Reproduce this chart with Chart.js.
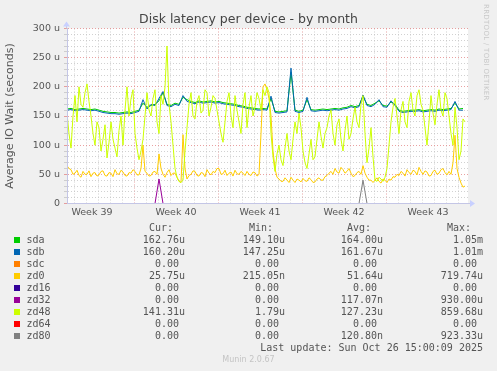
<!DOCTYPE html>
<html>
<head>
<meta charset="utf-8">
<script src="https://cdn.jsdelivr.net/npm/chart.js@4/dist/chart.umd.min.js"></script>
<style>
body { margin: 0; background: #f0f0f0; }
#wrap { position: relative; width: 497px; height: 371px; overflow: hidden; }
#wrap canvas { position: absolute; left: 0; top: 0; }
.lg { position: absolute; font: 10px "DejaVu Sans Mono", monospace; color: #555; white-space: pre; line-height: 12px; height: 12px; }
.sw { position: absolute; width: 6px; height: 6px; }
#rrd { position: absolute; left: 482px; top: 4px; font: 7px "DejaVu Sans", sans-serif; color: #c8c8c8; writing-mode: vertical-rl; letter-spacing: 0.3px; }
#munin { position: absolute; left: 0; width: 497px; top: 355px; text-align: center; font: 8px "DejaVu Sans", sans-serif; color: #c4c4c4; }
</style>
</head>
<body>
<div id="wrap">
<canvas id="latencyChart" width="497" height="371"></canvas>
<div id="legend"></div>
<div id="rrd">RRDTOOL / TOBI OETIKER</div>
<div id="munin">Munin 2.0.67</div>
</div>
<script>
// graph spans 802 hours; every series covers the first 800 hours evenly
var spanHours = 802;
var coveredHours = 800;

var weekLabels = ['Week 39', 'Week 40', 'Week 41', 'Week 42', 'Week 43'];
var weekLabelHours = [50, 218, 386, 554, 722];
var weekBoundaryHours = [134, 302, 470, 638];

var yMajorTicks = [0, 50, 100, 150, 200, 250, 300];
var yMajorLabels = ['0', '50 u', '100 u', '150 u', '200 u', '250 u', '300 u'];

var names = ['sda', 'sdb', 'sdc', 'zd0', 'zd16', 'zd32', 'zd48', 'zd64', 'zd80'];
var colors = ['#00cc00', '#0066b3', '#ff8000', '#ffcc00', '#330099', '#990099', '#ccff00', '#ff0000', '#808080'];

var curVals = ['162.76u', '160.20u', '0.00', '25.75u', '0.00', '0.00', '141.31u', '0.00', '0.00'];
var minVals = ['149.10u', '147.25u', '0.00', '215.05n', '0.00', '0.00', '1.79u', '0.00', '0.00'];
var avgVals = ['164.00u', '161.67u', '0.00', '51.64u', '0.00', '117.07n', '127.23u', '0.00', '120.80n'];
var maxVals = ['1.05m', '1.01m', '0.00', '719.74u', '0.00', '930.00u', '859.68u', '0.00', '923.33u'];

var sda = [
  162,163,161,162,163,162,161,162,160,158,
  157,156,156,155,156,157,156,158,160,172,
  165,168,170,176,190,170,168,172,170,182,
  178,175,173,176,174,175,176,174,175,173,
  172,171,170,168,167,165,164,163,162,163,
  162,180,158,157,158,159,225,160,158,160,
  178,161,160,161,162,161,162,163,162,164,
  165,168,166,168,184,170,168,172,176,168,
  167,174,170,160,158,159,160,160,161,159,
  160,161,160,162,161,162,163,172,162,163
];
var sdb = [
  160,161,159,160,161,160,159,160,158,156,
  155,154,154,153,154,155,154,156,158,178,
  162,170,168,180,192,168,166,170,168,185,
  175,173,171,174,172,173,174,172,173,171,
  170,169,168,166,165,163,162,161,160,161,
  160,184,156,155,156,157,232,158,156,158,
  182,159,158,159,160,159,160,161,160,162,
  163,166,164,166,186,168,166,170,178,166,
  165,176,168,158,156,157,158,158,159,157,
  158,159,158,160,159,160,161,175,160,160
];
var sdc = [
  0,0,0,0,0,0,0,0,0,0, 0,0,0,0,0,0,0,0,0,0,
  0,0,0,0,0,0,0,0,0,0, 0,0,0,0,0,0,0,0,0,0,
  0,0,0,0,0,0,0,0,0,0, 0,0,0,0,0,0,0,0,0,0,
  0,0,0,0,0,0,0,0,0,0, 0,0,0,0,0,0,0,0,0,0,
  0,0,0,0,0,0,0,0,0,0, 0,0,0,0,0,0,0,0,0,0
];
var zd0 = [
  65,60,58,50,52,57,48,45,55,50,50,56,46,52,53,47,49,55,56,48,
  47,53,52,46,58,51,50,57,54,48,47,53,52,58,55,49,49,60,100,55,
  52,47,48,54,55,50,85,60,50,45,53,58,48,52,52,45,38,36,118,60,
  42,48,50,56,55,48,47,53,52,46,58,52,49,55,53,60,60,50,51,57,
  48,52,54,47,57,51,50,55,52,48,55,50,48,54,53,47,50,120,200,205,
  195,180,150,90,60,45,42,38,38,44,40,36,45,40,36,42,40,37,43,39,
  38,44,41,36,37,42,44,40,40,46,48,52,55,50,60,54,52,62,58,52,
  55,60,52,46,48,53,55,50,65,52,45,40,40,36,40,44,38,35,42,40,
  36,42,40,46,45,50,48,55,52,47,58,53,50,57,55,49,62,55,50,56,
  54,47,48,55,57,50,52,58,60,53,49,55,50,70,117,60,45,35,28,30
];
var zd16 = [
  0,0,0,0,0,0,0,0,0,0, 0,0,0,0,0,0,0,0,0,0,
  0,0,0,0,0,0,0,0,0,0, 0,0,0,0,0,0,0,0,0,0,
  0,0,0,0,0,0,0,0,0,0, 0,0,0,0,0,0,0,0,0,0,
  0,0,0,0,0,0,0,0,0,0, 0,0,0,0,0,0,0,0,0,0,
  0,0,0,0,0,0,0,0,0,0, 0,0,0,0,0,0,0,0,0,0
];
var zd32 = [
  0,0,0,0,0,0,0,0,0,0, 0,0,0,0,0,0,0,0,0,0,
  0,0,0,42,0,0,0,0,0,0, 0,0,0,0,0,0,0,0,0,0,
  0,0,0,0,0,0,0,0,0,0, 0,0,0,0,0,0,0,0,0,0,
  0,0,0,0,0,0,0,0,0,0, 0,0,0,0,0,0,0,0,0,0,
  0,0,0,0,0,0,0,0,0,0, 0,0,0,0,0,0,0,0,0,0
];
var zd48 = [
  155,120,95,150,185,140,200,170,165,190,205,175,150,120,100,140,130,90,110,135,
  78,105,140,110,95,80,125,150,100,160,200,150,180,195,120,95,75,90,110,150,
  190,160,150,180,195,140,120,185,170,200,270,170,140,100,60,45,38,36,40,90,
  130,170,190,150,145,175,185,155,160,195,190,150,165,185,180,160,140,120,105,140,
  175,190,150,130,185,160,140,120,170,190,130,165,185,150,165,190,180,160,195,185,
  200,190,120,80,55,85,100,75,65,95,120,90,75,110,140,120,155,130,90,70,
  60,85,110,75,80,110,140,115,95,120,130,150,160,120,100,135,145,110,90,125,
  150,110,120,145,165,140,130,170,185,120,70,95,130,80,40,38,45,42,38,45,
  60,100,140,165,180,150,120,160,175,140,130,175,190,160,150,185,195,170,160,130,
  100,140,185,155,135,170,195,160,150,190,180,150,120,100,165,130,75,90,145,140
];
var zd64 = [
  0,0,0,0,0,0,0,0,0,0, 0,0,0,0,0,0,0,0,0,0,
  0,0,0,0,0,0,0,0,0,0, 0,0,0,0,0,0,0,0,0,0,
  0,0,0,0,0,0,0,0,0,0, 0,0,0,0,0,0,0,0,0,0,
  0,0,0,0,0,0,0,0,0,0, 0,0,0,0,0,0,0,0,0,0,
  0,0,0,0,0,0,0,0,0,0, 0,0,0,0,0,0,0,0,0,0
];
var zd80 = [
  0,0,0,0,0,0,0,0,0,0, 0,0,0,0,0,0,0,0,0,0,
  0,0,0,0,0,0,0,0,0,0, 0,0,0,0,0,0,0,0,0,0,
  0,0,0,0,0,0,0,0,0,0, 0,0,0,0,0,0,0,0,0,0,
  0,0,0,0,0,0,0,0,0,0, 0,0,0,0,40,0,0,0,0,0,
  0,0,0,0,0,0,0,0,0,0, 0,0,0,0,0,0,0,0,0,0
];
var series = [sda, sdb, sdc, zd0, zd16, zd32, zd48, zd64, zd80];

var majorGrid = 'rgba(226, 130, 130, 0.75)';
var minorGrid = 'rgba(190, 190, 190, 0.7)';
var axisColor = '#c4c6e6';

var plotBackground = {
    id: 'plotBackground',
    beforeDraw: function(chart) {
        var a = chart.chartArea, ctx = chart.ctx;
        ctx.save();
        ctx.fillStyle = '#ffffff';
        ctx.fillRect(a.left, a.top, a.right - a.left, a.bottom - a.top);
        ctx.restore();
    },
    afterDraw: function(chart) {
        // axis arrows, munin style
        var a = chart.chartArea, ctx = chart.ctx;
        ctx.save();
        ctx.strokeStyle = axisColor;
        ctx.fillStyle = '#c8d0ff';
        ctx.beginPath();
        ctx.moveTo(a.right, a.bottom);
        ctx.lineTo(a.right + 4, a.bottom);
        ctx.moveTo(a.left - 0.5, a.top);
        ctx.lineTo(a.left - 0.5, a.top - 4);
        ctx.stroke();
        ctx.beginPath();
        ctx.moveTo(a.right + 2, a.bottom - 3.5);
        ctx.lineTo(a.right + 7, a.bottom);
        ctx.lineTo(a.right + 2, a.bottom + 3.5);
        ctx.closePath();
        ctx.fill();
        ctx.beginPath();
        ctx.moveTo(a.left - 4, a.top - 2);
        ctx.lineTo(a.left - 0.5, a.top - 7);
        ctx.lineTo(a.left + 3, a.top - 2);
        ctx.closePath();
        ctx.fill();
        ctx.restore();
    }
};

document.addEventListener("DOMContentLoaded", function() {
    var ctx = document.getElementById('latencyChart').getContext('2d');

    var datasets = names.map(function(name, i) {
        var values = series[i];
        var step = coveredHours / values.length;
        return {
            label: name,
            data: values.map(function(v, k) { return { x: k * step, y: v }; }),
            borderColor: colors[i],
            backgroundColor: colors[i],
            borderWidth: 1,
            pointRadius: 0,
            tension: 0,
            fill: false,
            order: names.length - i
        };
    });

    var latencyChart = new Chart(ctx, {
        type: 'line',
        data: { datasets: datasets },
        plugins: [plotBackground],
        options: {
            responsive: false,
            animation: false,
            devicePixelRatio: 1,
            layout: { padding: { left: 0, right: 0, top: 0, bottom: 147.5 } },
            plugins: {
                legend: { display: false },
                tooltip: { enabled: false },
                title: {
                    display: true,
                    text: 'Disk latency per device - by month',
                    color: '#444',
                    font: { family: 'DejaVu Sans', size: 12.5, weight: 'normal' },
                    padding: { top: 12, bottom: 1.5 }
                }
            },
            scales: {
                x: {
                    type: 'linear',
                    min: 0,
                    max: spanHours,
                    afterFit: function(scale) { scale.height = 20; },
                    afterBuildTicks: function(scale) {
                        var t = [];
                        for (var h = 2; h <= spanHours; h += 12) t.push({ value: h });
                        scale.ticks = t;
                    },
                    grid: {
                        drawTicks: false,
                        lineWidth: 1,
                        color: function(c) {
                            var v = c.tick ? c.tick.value : -1;
                            if (weekBoundaryHours.indexOf(v) >= 0) return majorGrid;
                            if ((v - 14) % 24 === 0) return minorGrid;
                            return 'rgba(0,0,0,0)';
                        }
                    },
                    border: { color: axisColor, width: 1, dash: [1, 2], z: 1 },
                    ticks: {
                        autoSkip: false,
                        maxRotation: 0,
                        padding: 3,
                        color: '#555',
                        font: { family: 'DejaVu Sans', size: 9.5 },
                        callback: function(value) {
                            var k = weekLabelHours.indexOf(value);
                            return k >= 0 ? weekLabels[k] : '';
                        }
                    }
                },
                y: {
                    min: 0,
                    max: 300,
                    afterFit: function(scale) { scale.width = 67; },
                    grid: {
                        drawTicks: true,
                        tickLength: 3,
                        color: function(c) {
                            var v = c.tick ? c.tick.value : 0;
                            return yMajorTicks.indexOf(v) >= 0 ? majorGrid : minorGrid;
                        }
                    },
                    border: { color: axisColor, width: 1, dash: [1, 2], z: 1 },
                    title: {
                        display: true,
                        text: 'Average IO Wait (seconds)',
                        color: '#555',
                        font: { family: 'DejaVu Sans', size: 11 },
                        padding: { top: 4, bottom: 0 }
                    },
                    ticks: {
                        stepSize: 10,
                        maxTicksLimit: 40,
                        autoSkip: false,
                        padding: 4,
                        color: '#555',
                        font: { family: 'DejaVu Sans', size: 9.5 },
                        callback: function(value) {
                            var k = yMajorTicks.indexOf(value);
                            return k >= 0 ? yMajorLabels[k] : '';
                        }
                    }
                },
                // empty right-hand strip, keeps the plot clear of the rrdtool credit
                yRight: {
                    position: 'right',
                    min: 0,
                    max: 300,
                    afterFit: function(scale) { scale.width = 29; },
                    grid: { display: false, drawTicks: false },
                    border: { display: false },
                    ticks: { display: false }
                }
            }
        }
    });

    // legend table under the graph
    var legend = document.getElementById('legend');
    function addText(text, right, top, align) {
        var d = document.createElement('div');
        d.className = 'lg';
        d.textContent = text;
        if (align === 'left') d.style.left = right + 'px';
        else { d.style.right = (497 - right) + 'px'; d.style.textAlign = 'right'; }
        d.style.top = top + 'px';
        legend.appendChild(d);
    }
    var colRight = [185, 285, 383, 483];
    var headers = ['Cur:', 'Min:', 'Avg:', 'Max:'];
    var columns = [curVals, minVals, avgVals, maxVals];
    headers.forEach(function(h, c) { addText(h + '  ', colRight[c], 221.5); });
    names.forEach(function(name, i) {
        var top = 233.7 + i * 12;
        var sw = document.createElement('div');
        sw.className = 'sw';
        sw.style.left = '14px';
        sw.style.top = (top + 3) + 'px';
        sw.style.background = colors[i];
        legend.appendChild(sw);
        addText(name, 26.5, top, 'left');
        columns.forEach(function(col, c) {
            var v = col[i];
            addText(/[a-z]$/.test(v) ? v : v + ' ', colRight[c], top);
        });
    });
    addText('Last update: Sun Oct 26 15:00:09 2025', 483, 341.7);
});
</script>
</body>
</html>
